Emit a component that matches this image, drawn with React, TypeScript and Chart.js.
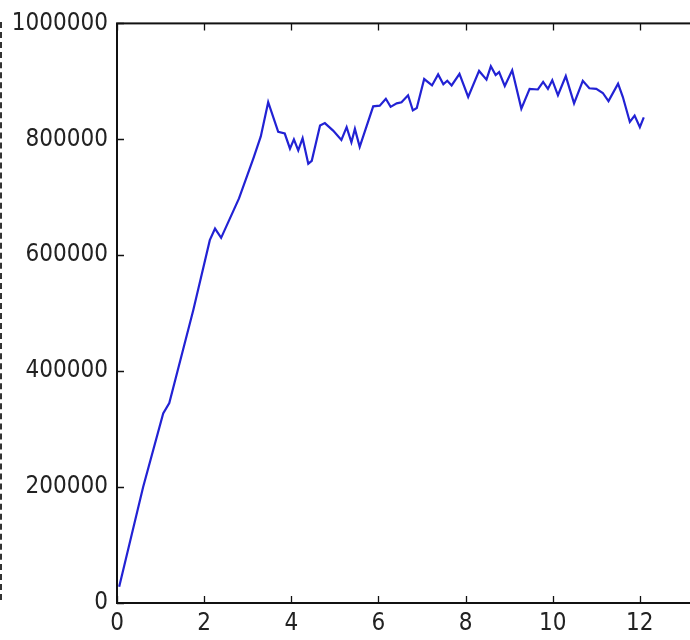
import React, { useEffect, useRef } from "react";
import { Chart, registerables } from "chart.js";

Chart.register(...registerables);

const xValues = [
  0.05, 0.6, 1.06, 1.2, 1.75, 2.13, 2.25, 2.39, 2.8, 3.13, 3.3, 3.47, 3.7, 3.85, 3.97, 4.06,
  4.16, 4.26, 4.39, 4.47, 4.66, 4.77, 4.96, 5.15, 5.27, 5.38, 5.46, 5.57, 5.88, 6.03, 6.17,
  6.28, 6.42, 6.53, 6.68, 6.79, 6.88, 7.05, 7.23, 7.37, 7.49, 7.58, 7.68, 7.86, 8.06, 8.31,
  8.48, 8.58, 8.69, 8.77, 8.9, 9.07, 9.28, 9.47, 9.66, 9.78, 9.89, 9.99, 10.12, 10.3, 10.49,
  10.69, 10.84, 11.0, 11.15, 11.28, 11.5, 11.61, 11.77, 11.88, 12.0, 12.09,
];

const yValues = [
  28000, 200000, 327000, 345000, 505000, 626000, 646000, 630000, 698000, 767000, 805000,
  864000, 813000, 810000, 784000, 800000, 781000, 802000, 758000, 763000, 824000, 828000,
  815000, 799000, 821000, 795000, 818000, 787000, 857000, 858000, 870000, 856000, 862000,
  864000, 876000, 850000, 854000, 904000, 893000, 912000, 895000, 901000, 893000, 913000,
  873000, 918000, 903000, 926000, 911000, 916000, 892000, 919000, 853000, 887000, 886000,
  899000, 887000, 902000, 876000, 909000, 862000, 901000, 888000, 887000, 880000, 866000,
  896000, 873000, 830000, 841000, 821000, 838000,
];

const xTicks = [0, 2, 4, 6, 8, 10, 12, 14];
const yTicks = [0, 200000, 400000, 600000, 800000, 1000000];

const FONT_FAMILY = "'Liberation Sans Narrow', 'DejaVu Sans Condensed', 'DejaVu Sans', sans-serif";

const framePlugin = {
  id: "frame",
  afterDraw(chart: any) {
    const { ctx, chartArea: a, scales } = chart;
    ctx.save();
    ctx.strokeStyle = "#111";
    ctx.lineWidth = 1.3;
    const L = 7;
    ctx.beginPath();
    for (const v of xTicks) {
      const px = Math.round(scales.x.getPixelForValue(v)) + 0.5;
      ctx.moveTo(px, a.bottom);
      ctx.lineTo(px, a.bottom - L);
      ctx.moveTo(px, a.top);
      ctx.lineTo(px, a.top + L);
    }
    for (const v of yTicks) {
      const py = Math.round(scales.y.getPixelForValue(v)) + 0.5;
      ctx.moveTo(a.left, py);
      ctx.lineTo(a.left + L, py);
      ctx.moveTo(a.right, py);
      ctx.lineTo(a.right - L, py);
    }
    ctx.stroke();
    ctx.lineWidth = 2;
    ctx.strokeStyle = "#111";
    ctx.strokeRect(a.left, a.top, a.right - a.left, a.bottom - a.top);
    ctx.restore();
  },
};

export default function App() {
  const canvasRef = useRef<HTMLCanvasElement | null>(null);

  useEffect(() => {
    const canvas = canvasRef.current;
    if (!canvas) return;
    const chart = new Chart(canvas, {
      type: "line",
      data: {
        datasets: [
          {
            data: xValues.map((x, i) => ({ x, y: yValues[i] })),
            borderColor: "#2222d4",
            borderWidth: 2.2,
            pointRadius: 0,
            tension: 0,
            fill: false,
          },
        ],
      },
      options: {
        animation: false,
        responsive: false,
        maintainAspectRatio: false,
        layout: { padding: { top: 23, right: 33, left: 0, bottom: 0 } },
        plugins: {
          legend: { display: false },
          tooltip: { enabled: false },
        },
        scales: {
          x: {
            type: "linear",
            min: 0,
            max: 14,
            afterBuildTicks: (s: any) => {
              s.ticks = xTicks.map((v) => ({ value: v }));
            },
            ticks: {
              color: "#222",
              padding: 6,
              maxRotation: 0,
              font: { family: FONT_FAMILY, size: 24 },
              callback: (v: any) => String(v),
            },
            grid: { display: false, drawTicks: false },
            border: { display: false },
            afterFit: (s: any) => {
              s.height = 37;
            },
          },
          y: {
            type: "linear",
            min: 0,
            max: 1000000,
            afterBuildTicks: (s: any) => {
              s.ticks = yTicks.map((v) => ({ value: v }));
            },
            ticks: {
              color: "#222",
              padding: 9,
              font: { family: FONT_FAMILY, size: 24 },
              callback: (v: any) => String(v),
            },
            grid: { display: false, drawTicks: false },
            border: { display: false },
            afterFit: (s: any) => {
              s.width = 117;
            },
          },
        },
      },
      plugins: [framePlugin],
    });
    return () => chart.destroy();
  }, []);

  return (
    <div
      style={{
        position: "fixed",
        left: 0,
        top: 0,
        width: 690,
        height: 640,
        overflow: "hidden",
        background: "#fff",
      }}
    >
      <div
        style={{
          position: "absolute",
          left: 0,
          top: 22,
          height: 578,
          width: 0,
          borderLeft: "2px dashed #333",
        }}
      />
      <canvas ref={canvasRef} width={760} height={640} style={{ display: "block" }} />
    </div>
  );
}
